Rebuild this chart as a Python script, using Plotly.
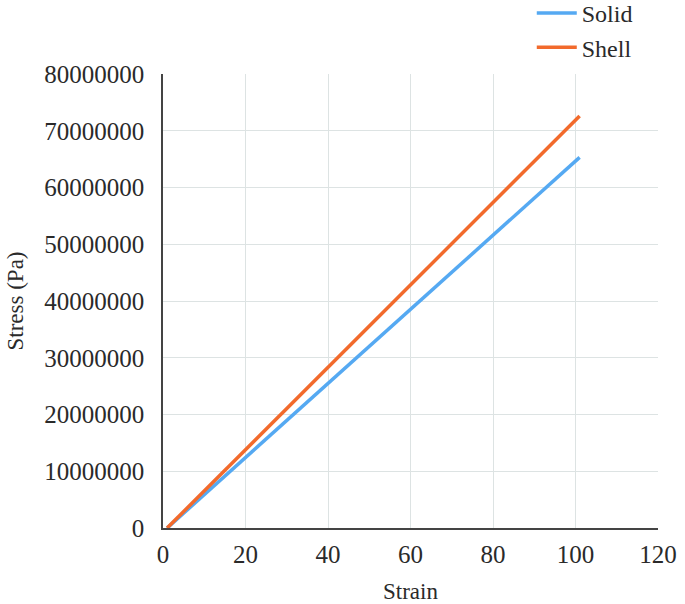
import plotly.graph_objects as go

# Stress-strain data
strain = [1, 101]
solid_stress = [0, 65300000]
shell_stress = [0, 72600000]

x_ticks = [0, 20, 40, 60, 80, 100, 120]
y_ticks = [0, 10000000, 20000000, 30000000, 40000000, 50000000, 60000000, 70000000, 80000000]

font = "Liberation Serif"

fig = go.Figure()
fig.add_scatter(x=strain, y=solid_stress, mode='lines', name='Solid',
                line=dict(color='#55A9F2', width=3.5))
fig.add_scatter(x=strain, y=shell_stress, mode='lines', name='Shell',
                line=dict(color='#F26A2C', width=3.5))

fig.update_layout(
    width=685, height=604,
    margin=dict(l=163, r=27, t=74, b=76, autoexpand=False),
    plot_bgcolor='white', paper_bgcolor='white',
    font=dict(family=font, size=25, color='#2a2a2a'),
    legend=dict(x=0.745, y=1.183, xanchor='left', yanchor='top',
                font=dict(size=24), bgcolor='rgba(0,0,0,0)',
                tracegroupgap=0, itemwidth=40),
)
fig.update_xaxes(
    range=[0, 120], tickvals=x_ticks, ticktext=[str(v) for v in x_ticks],
    showgrid=True, gridcolor='#dde3e3', gridwidth=1,
    showline=True, linecolor='#444444', linewidth=1.5,
    zeroline=False, ticks='', ticklabelstandoff=3, automargin=False,
    title=dict(text='Strain', font=dict(size=23), standoff=18),
)
fig.update_yaxes(
    range=[0, 80000000], tickvals=y_ticks, ticktext=[str(v) for v in y_ticks],
    showgrid=True, gridcolor='#dde3e3', gridwidth=1,
    showline=True, linecolor='#444444', linewidth=1.5,
    zeroline=False, ticks='', ticklabelstandoff=12, automargin=False,
    title=dict(text='Stress (Pa)', font=dict(size=23), standoff=14),
)

# drop the default page margin so the figure sits at the window's corner
fig.write_html("out.html", config={'displayModeBar': False},
               post_script="document.body.style.margin='0';")
